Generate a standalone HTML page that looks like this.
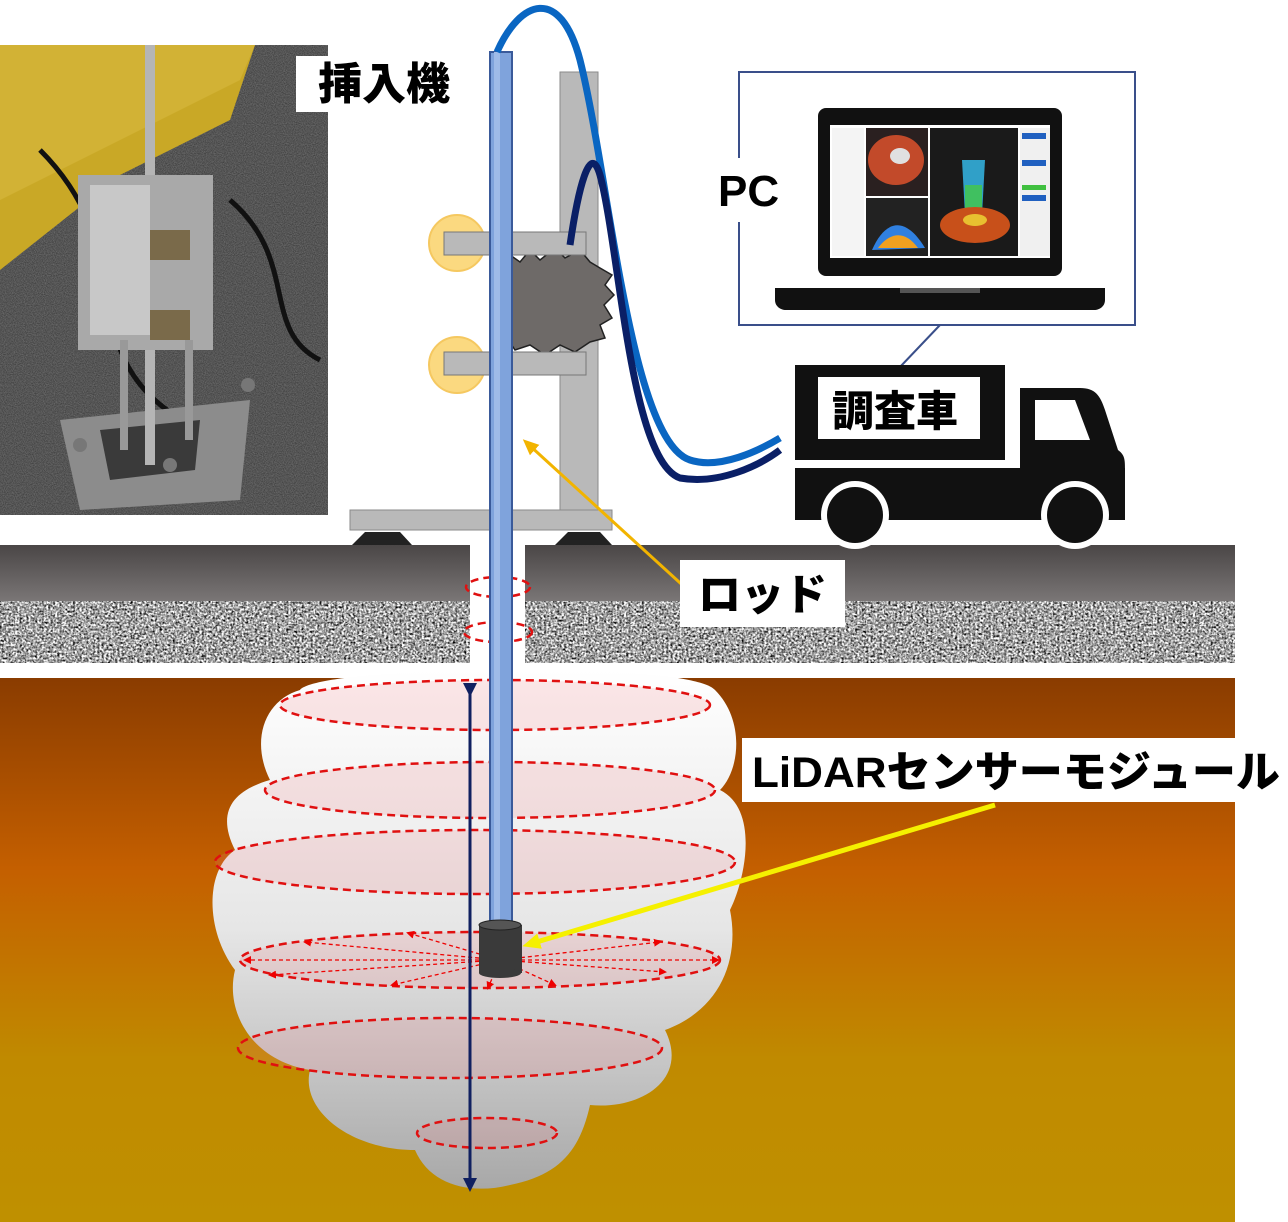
<!DOCTYPE html>
<html><head><meta charset="utf-8"><style>
html,body{margin:0;padding:0;background:#fff;}
svg{display:block;}
text{font-family:"Liberation Sans","Noto Sans CJK JP",sans-serif;font-weight:900;}
</style></head><body>
<svg width="1288" height="1222" viewBox="0 0 1288 1222" xmlns="http://www.w3.org/2000/svg">
<defs>
<filter id="grav" x="0" y="0" width="100%" height="100%" color-interpolation-filters="sRGB">
<feTurbulence type="fractalNoise" baseFrequency="0.45" numOctaves="2" seed="3" result="t"/>
<feColorMatrix in="t" type="matrix" values="0.33 0.33 0.33 0 0  0.33 0.33 0.33 0 0  0.33 0.33 0.33 0 0  0 0 0 0 1" result="g"/>
<feComponentTransfer in="g">
<feFuncR type="linear" slope="3.2" intercept="-0.95"/>
<feFuncG type="linear" slope="3.2" intercept="-0.95"/>
<feFuncB type="linear" slope="3.2" intercept="-0.95"/>
</feComponentTransfer>
</filter>
<filter id="noise2" x="0" y="0" width="100%" height="100%">
<feTurbulence type="fractalNoise" baseFrequency="0.9" numOctaves="2" seed="7"/>
<feColorMatrix type="matrix" values="0 0 0 0 0.2  0 0 0 0 0.2  0 0 0 0 0.2  1.4 0 0 0 -0.2"/>
</filter>
<linearGradient id="soil" x1="0" y1="0" x2="0" y2="1">
<stop offset="0" stop-color="#8a3c00"/><stop offset="0.35" stop-color="#c45f00"/><stop offset="0.7" stop-color="#c08a00"/><stop offset="1" stop-color="#bf9000"/>
</linearGradient>
<linearGradient id="asph" x1="0" y1="0" x2="0" y2="1">
<stop offset="0" stop-color="#4a4646"/><stop offset="1" stop-color="#7a7676"/>
</linearGradient>
<linearGradient id="cloud" x1="0" y1="0" x2="0" y2="1">
<stop offset="0" stop-color="#ffffff"/><stop offset="0.5" stop-color="#e6e6e6"/><stop offset="1" stop-color="#a8a8a8"/>
</linearGradient>
<marker id="ar" markerWidth="8" markerHeight="8" refX="6" refY="4" orient="auto" markerUnits="userSpaceOnUse"><path d="M0,0 L8,4 L0,8z" fill="#e00"/></marker>
<marker id="nav" markerWidth="14" markerHeight="14" refX="7" refY="7" orient="auto" markerUnits="userSpaceOnUse"><path d="M0,0 L14,7 L0,14z" fill="#102060"/></marker>
<marker id="yl" markerWidth="20" markerHeight="20" refX="10" refY="10" orient="auto" markerUnits="userSpaceOnUse"><path d="M0,2 L18,10 L0,18z" fill="#f5f000"/></marker>
<marker id="or" markerWidth="18" markerHeight="18" refX="9" refY="9" orient="auto" markerUnits="userSpaceOnUse"><path d="M0,2 L16,9 L0,16z" fill="#f2b400"/></marker>
</defs>

<!-- photo -->
<rect x="0" y="45" width="328" height="470" fill="#3c3c3c"/>
<rect x="0" y="45" width="328" height="470" filter="url(#noise2)" opacity="0.8"/>
<polygon points="0,45 255,45 230,120 120,175 0,270" fill="#c9a826"/>
<polygon points="0,45 255,45 240,80 0,200" fill="#d8b940" opacity="0.6"/>
<path d="M40,150 C150,260 60,360 200,430 M230,200 C300,260 260,330 320,360" stroke="#111" stroke-width="5" fill="none"/>
<polygon points="60,420 250,400 240,500 80,510" fill="#8c8c8c"/>
<polygon points="100,430 200,420 195,470 110,480" fill="#3a3a3a"/>
<rect x="145" y="45" width="10" height="420" fill="#b5b5b5"/>
<rect x="78" y="175" width="135" height="175" fill="#a9a9a9"/>
<rect x="90" y="185" width="60" height="150" fill="#c8c8c8"/>
<rect x="150" y="230" width="40" height="30" fill="#7a6a4a"/>
<rect x="150" y="310" width="40" height="30" fill="#7a6a4a"/>
<rect x="120" y="340" width="8" height="110" fill="#999"/>
<rect x="185" y="340" width="8" height="100" fill="#999"/>
<circle cx="248" cy="385" r="7" fill="#777"/><circle cx="170" cy="465" r="7" fill="#777"/><circle cx="80" cy="445" r="7" fill="#777"/>

<!-- label 挿入機 -->
<rect x="296" y="56" width="160" height="56" fill="#fff"/>
<text x="318" y="99" font-size="44">挿入機</text>

<!-- soil -->
<rect x="0" y="678" width="1235" height="544" fill="url(#soil)"/>

<!-- asphalt -->
<rect x="0" y="545" width="470" height="56" fill="url(#asph)"/>
<rect x="525" y="545" width="710" height="56" fill="url(#asph)"/>
<rect x="0" y="601" width="470" height="62" filter="url(#grav)"/>
<rect x="525" y="601" width="710" height="62" filter="url(#grav)"/>

<!-- cloud -->
<path d="M300,690 C320,665 690,660 715,690 C745,720 740,770 720,790 C760,810 745,880 730,910 C740,960 720,1010 665,1030 C690,1080 640,1110 590,1105 C580,1150 560,1175 510,1185 C470,1195 430,1185 415,1150 C350,1150 300,1110 310,1070 C250,1060 225,1010 235,970 C205,930 205,870 235,850 C215,810 235,790 270,780 C250,740 265,700 300,690 Z" fill="url(#cloud)"/>

<!-- dashed ellipses -->
<g fill="rgba(240,120,130,0.18)" stroke="#e01010" stroke-width="2.5" stroke-dasharray="8,5">
<ellipse cx="498" cy="587" rx="32" ry="10" fill="none"/>
<ellipse cx="498" cy="632" rx="34" ry="10" fill="none"/>
<ellipse cx="495" cy="705" rx="215" ry="25"/>
<ellipse cx="490" cy="790" rx="225" ry="28"/>
<ellipse cx="475" cy="862" rx="260" ry="32"/>
<ellipse cx="480" cy="960" rx="240" ry="28"/>
<ellipse cx="450" cy="1048" rx="212" ry="30"/>
<ellipse cx="487" cy="1133" rx="70" ry="15"/>
</g>

<!-- radial arrows -->
<g stroke="#e00" stroke-width="1.3" stroke-dasharray="4,3" marker-end="url(#ar)">
<line x1="500" y1="960" x2="245" y2="960"/>
<line x1="500" y1="960" x2="718" y2="960"/>
<line x1="500" y1="960" x2="305" y2="942"/>
<line x1="500" y1="960" x2="660" y2="942"/>
<line x1="500" y1="960" x2="408" y2="933"/>
<line x1="500" y1="960" x2="392" y2="985"/>
<line x1="500" y1="960" x2="665" y2="972"/>
<line x1="500" y1="960" x2="555" y2="985"/>
<line x1="500" y1="960" x2="488" y2="988"/>
<line x1="500" y1="960" x2="270" y2="975"/>
</g>

<!-- navy double arrow -->
<line x1="470" y1="690" x2="470" y2="1185" stroke="#102060" stroke-width="3" marker-start="url(#nav)" marker-end="url(#nav)"/>

<!-- stand -->
<rect x="560" y="72" width="38" height="440" fill="#b9b9b9" stroke="#8a8a8a"/>
<rect x="350" y="510" width="262" height="20" fill="#b9b9b9" stroke="#8a8a8a"/>
<polygon points="352,545 365,532 400,532 412,545" fill="#222"/>
<polygon points="555,545 568,532 600,532 612,545" fill="#222"/>
<polygon points="498,265 510,255 520,262 530,250 540,260 555,248 565,258 580,250 590,262 600,268 612,275 605,285 614,295 604,305 612,318 600,325 605,338 590,342 575,352 560,345 545,355 530,345 515,350 505,335 498,320 505,308 496,295 505,282" fill="#6e6a68" stroke="#222" stroke-width="1.5"/>
<circle cx="457" cy="243" r="28" fill="#fbd980" stroke="#f5c860" stroke-width="2"/>
<circle cx="457" cy="365" r="28" fill="#fbd980" stroke="#f5c860" stroke-width="2"/>
<rect x="444" y="232" width="142" height="23" fill="#b9b9b9" stroke="#777"/>
<rect x="444" y="352" width="142" height="23" fill="#b9b9b9" stroke="#777"/>

<!-- rod -->
<rect x="490" y="52" width="22" height="873" fill="#7fa3dc" stroke="#3a5a9a" stroke-width="2"/>
<rect x="494" y="52" width="6" height="873" fill="#9fbbe8"/>
<!-- sensor -->
<rect x="479" y="925" width="43" height="48" fill="#3a3a3a"/>
<ellipse cx="500" cy="973" rx="21" ry="5" fill="#3a3a3a"/>
<ellipse cx="500" cy="925" rx="21" ry="5" fill="#555" stroke="#222"/>

<!-- cables -->
<path d="M497,52 C520,0 560,-15 580,60 C610,180 630,440 690,460 C720,470 760,450 780,438" stroke="#0a66c2" stroke-width="7" fill="none"/>
<path d="M570,245 C578,190 590,140 600,175 C620,250 630,460 680,478 C720,485 760,465 780,450" stroke="#0a1f66" stroke-width="7" fill="none"/>

<!-- rod label line -->
<line x1="690" y1="592" x2="528" y2="444" stroke="#f2b400" stroke-width="3" marker-end="url(#or)"/>
<rect x="680" y="560" width="165" height="67" fill="#fff"/>
<text x="698" y="610" font-size="43">ロッド</text>

<!-- LiDAR label -->
<line x1="995" y1="805" x2="530" y2="944" stroke="#f5f000" stroke-width="5" marker-end="url(#yl)"/>
<rect x="742" y="738" width="546" height="64" fill="#fff"/>
<text x="752" y="787" font-size="43" textLength="528" lengthAdjust="spacingAndGlyphs">LiDARセンサーモジュール</text>

<!-- PC box -->
<line x1="940" y1="325" x2="900" y2="367" stroke="#3a4f8a" stroke-width="2"/>
<rect x="739" y="72" width="396" height="253" fill="#fff" stroke="#3a4f8a" stroke-width="2"/>
<rect x="818" y="108" width="244" height="168" rx="8" fill="#111"/>
<rect x="830" y="125" width="220" height="133" fill="#fff"/>
<rect x="866" y="128" width="62" height="68" fill="#2a2020"/>
<ellipse cx="896" cy="160" rx="28" ry="25" fill="#c24a2a"/>
<ellipse cx="900" cy="156" rx="10" ry="8" fill="#e0e0e0"/>
<rect x="866" y="198" width="62" height="58" fill="#222"/>
<path d="M872,250 C885,220 905,215 925,248 Z" fill="#3080e0"/>
<path d="M878,248 C890,232 905,230 918,248 Z" fill="#f0a020"/>
<rect x="930" y="128" width="88" height="128" fill="#1a1a1a"/>
<polygon points="962,160 985,160 982,215 965,215" fill="#30a0c8"/>
<polygon points="965,185 982,185 982,215 965,215" fill="#40c060"/>
<ellipse cx="975" cy="225" rx="35" ry="18" fill="#c8501a"/>
<ellipse cx="975" cy="220" rx="12" ry="6" fill="#e8c030"/>
<rect x="1020" y="128" width="30" height="128" fill="#f0f0f0"/>
<rect x="1022" y="133" width="24" height="6" fill="#2060c0"/>
<rect x="1022" y="160" width="24" height="6" fill="#2060c0"/>
<rect x="1022" y="185" width="24" height="5" fill="#40c040"/>
<rect x="1022" y="195" width="24" height="6" fill="#2060c0"/>
<rect x="832" y="128" width="32" height="128" fill="#f4f4f4"/>
<path d="M775,288 H1105 V300 C1105,306 1100,310 1094,310 H786 C780,310 775,306 775,300 Z" fill="#111"/>
<rect x="900" y="288" width="80" height="5" fill="#555"/>
<rect x="708" y="158" width="82" height="64" fill="#fff"/>
<text x="718" y="206" font-size="44">PC</text>

<!-- truck -->
<rect x="795" y="365" width="210" height="95" fill="#111"/>
<rect x="818" y="377" width="162" height="62" fill="#fff"/>
<text x="832" y="426" font-size="42">調査車</text>
<path d="M1020,388 H1080 C1095,388 1100,395 1105,410 L1118,450 C1125,455 1125,460 1125,470 V520 H1020 Z" fill="#111"/>
<path d="M1035,400 H1075 L1090,440 H1035 Z" fill="#fff"/>
<rect x="795" y="468" width="330" height="52" fill="#111"/>
<circle cx="855" cy="515" r="34" fill="#fff"/>
<circle cx="855" cy="515" r="28" fill="#111"/>
<circle cx="1075" cy="515" r="34" fill="#fff"/>
<circle cx="1075" cy="515" r="28" fill="#111"/>
</svg>
</body></html>
